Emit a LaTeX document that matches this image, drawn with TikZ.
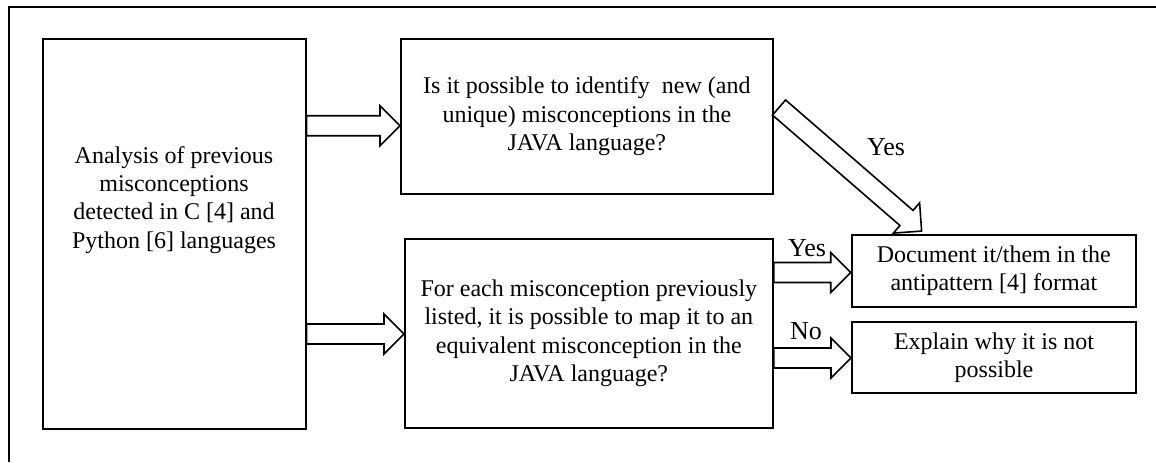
\documentclass[tikz,border=0pt]{standalone}
\usepackage{fontspec}
\setmainfont{Liberation Serif}
\usetikzlibrary{calc}
\tikzset{
  box/.style={draw, line width=1pt, fill=white, align=center, inner sep=2pt,
    font=\fontsize{12}{14.2}\selectfont},
  barrow/.style={draw, line width=0.8pt, fill=white, line join=miter},
  lbl/.style={font=\fontsize{13}{14}\selectfont, inner sep=0pt},
}
\newcommand\blockarrow[2]{%
  \draw[barrow] let \p1=(#1), \p2=(#2),
    \n1={atan2(\y2-\y1,\x2-\x1)}, \n2={veclen(\x2-\x1,\y2-\y1)} in
    [shift={(\p1)}, rotate=\n1]
    (0pt,-5pt) -- (\n2-10pt,-5pt) -- (\n2-10pt,-10pt) -- (\n2,0pt)
    -- (\n2-10pt,10pt) -- (\n2-10pt,5pt) -- (0pt,5pt) -- cycle;}
\begin{document}
\begin{tikzpicture}[x=0.5pt,y=-0.5pt]
\useasboundingbox (0,0) rectangle (1156,462);
\draw[line width=1pt] (1156,7) -- (9,7) -- (9,462);

\node[box, minimum width=131.5pt, minimum height=195pt] (left) at (174,234)
  {\raisebox{14pt}[0pt][0pt]{\begin{tabular}{@{}c@{}}Analysis of previous\\ misconceptions\\ detected in C [4] and\\ Python [6] languages\end{tabular}}};
\node[box, minimum width=185.85pt, minimum height=77.5pt] (top) at (586.85,116.5)
  {Is it possible to identify~ new (and\\ unique) misconceptions in the\\ JAVA language?};
\node[box, minimum width=183.85pt, minimum height=94.5pt] (bot) at (588.85,333.5)
  {\raisebox{-1.5pt}{\begin{tabular}{@{}c@{}}For each misconception previously\\ listed, it is possible to map it to an\\ equivalent misconception in the\\ JAVA language?\end{tabular}}};
\node[box, minimum width=142.15pt, minimum height=36.25pt] (doc) at (993.85,270.75)
  {Document it/them in the\\ antipattern [4] format};
\node[box, minimum width=142pt, minimum height=35.8pt] (expl) at (994,357.5)
  {Explain why it is not\\ possible};

\coordinate (a1s) at (left.east |- 0,125.7);
\coordinate (a1e) at (top.west |- 0,125.7);
\coordinate (a2s) at (left.east |- 0,334);
\coordinate (a2e) at (bot.west |- 0,334);
\coordinate (a3s) at (bot.east |- 0,272.5);
\coordinate (a3e) at (doc.west |- 0,272.5);
\coordinate (a4s) at (bot.east |- 0,358);
\coordinate (a4e) at (expl.west |- 0,358);
\coordinate (dS) at (779,107.5);
\coordinate (dE) at (922,231.4);

\blockarrow{a1s}{a1e}
\blockarrow{a2s}{a2e}
\blockarrow{a3s}{a3e}
\blockarrow{a4s}{a4e}
\blockarrow{dS}{dE}

\node[lbl] (yesd) at (886,147) {Yes};
\node[lbl] (yes) at (807,248) {Yes};
\node[lbl] (no) at (806,331) {No};
\end{tikzpicture}
\end{document}
